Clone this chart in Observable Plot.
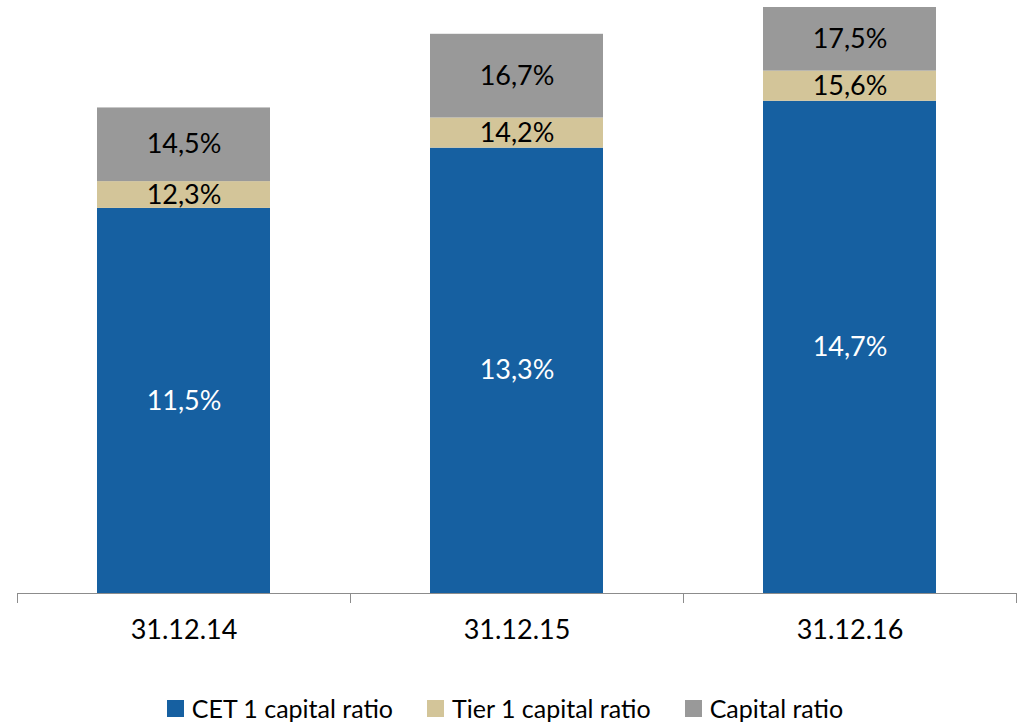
<!DOCTYPE html>
<html>
<head>
<meta charset="utf-8">
<script src="https://cdn.jsdelivr.net/npm/d3@7"></script>
<script src="https://cdn.jsdelivr.net/npm/@observablehq/plot@0.6"></script>
<style>
  html, body { margin: 0; padding: 0; background: #fff; }
  #chart { width: 1018px; }
  .legend { display: flex; justify-content: center; align-items: center; font-family: Lato, "Open Sans", sans-serif; font-size: 25px; color: #000; height: 36px; margin-top: 10px; padding-right: 8px; line-height: 1; }
  .legend .item { display: flex; align-items: center; margin: 0 17px; }
  .legend .sw { width: 17px; height: 17px; margin-right: 8px; }
</style>
</head>
<body>
<div id="chart"></div>
<script>
const dates = ["31.12.14", "31.12.15", "31.12.16"];
const cet1 = [11.5, 13.3, 14.7];
const tier1 = [12.3, 14.2, 15.6];
const capital = [14.5, 16.7, 17.5];
const seriesNames = ["CET 1 capital ratio", "Tier 1 capital ratio", "Capital ratio"];
const seriesColors = ["#1660A1", "#D3C599", "#999999"];

const fmt = v => v.toFixed(1).replace(".", ",") + "%";

// segments: each series drawn from the previous series' top to its own value
const segments = [];
dates.forEach((d, i) => {
  const tops = [cet1[i], tier1[i], capital[i]];
  tops.forEach((t, k) => {
    const base = k === 0 ? 0 : tops[k - 1];
    segments.push({date: d, series: seriesNames[k], y1: base, y2: t, label: fmt(t), mid: (base + t) / 2, k});
  });
});

const W = 1018, H = 680, mL = 17, mR = 2, pIn = 0.48, pOut = 0.24;
const step = (W - mL - mR) / (dates.length - pIn + 2 * pOut);

const plot = Plot.plot({
  width: W,
  height: H,
  marginLeft: mL,
  marginRight: mR,
  marginTop: 7,
  marginBottom: 87,
  style: {fontFamily: 'Lato, "Open Sans", sans-serif', background: "#fff"},
  x: {domain: dates, paddingInner: pIn, paddingOuter: pOut, label: null},
  y: {domain: [0, 17.5], axis: null},
  color: {domain: seriesNames, range: seriesColors},
  marks: [
    Plot.rectY(segments, {x: "date", y1: "y1", y2: "y2", fill: "series"}),
    Plot.text(segments, {x: "date", y: "mid", text: "label", fontSize: 27, fill: d => d.k === 0 ? "#fff" : "#000"}),
    Plot.ruleY([0], {stroke: "#8c8c8c", strokeWidth: 1}),
    Plot.ruleX(dates, {x: d => d, y1: 0, y2: 0, insetBottom: -10, dx: -step / 2, stroke: "#8c8c8c"}),
    Plot.ruleX(dates.slice(-1), {x: d => d, y1: 0, y2: 0, insetBottom: -10, dx: step / 2, stroke: "#8c8c8c"}),
    Plot.axisX({tickSize: 0, tickPadding: 26, fontSize: 27, fill: "#000", label: null})
  ]
});
document.getElementById("chart").appendChild(plot);

const legend = d3.select("#chart").append("div").attr("class", "legend");
seriesNames.forEach((n, i) => {
  const it = legend.append("div").attr("class", "item");
  it.append("div").attr("class", "sw").style("background", seriesColors[i]);
  it.append("span").text(n);
});
</script>
</body>
</html>
